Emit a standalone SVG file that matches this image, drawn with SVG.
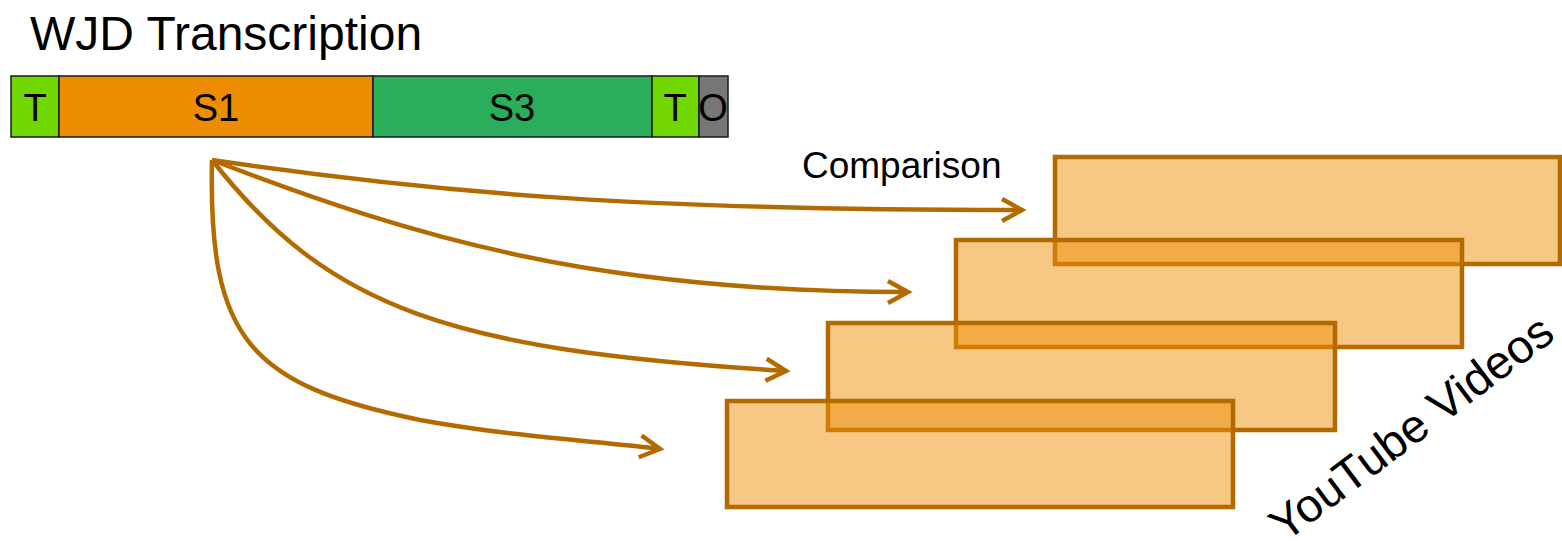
<svg xmlns="http://www.w3.org/2000/svg" width="1562" height="542" viewBox="0 0 1562 542">
<style>
text{font-family:"Liberation Sans",Arial,sans-serif;fill:#000}
.seg{stroke:#1a1a1a;stroke-width:1.5}
.lbl{font-size:38px;text-anchor:middle}
.vid{fill:#EF8F09;fill-opacity:0.5;stroke:#B36B00;stroke-width:4.5}
.arr{fill:none;stroke:#B36B00;stroke-width:4.5;marker-end:url(#chev)}
</style>
<defs>
<marker id="chev" markerUnits="userSpaceOnUse" markerWidth="30" markerHeight="30" refX="22" refY="12" orient="auto" viewBox="0 0 30 24">
<path d="M2,1 L22,12 L2,23" fill="none" stroke="#B36B00" stroke-width="4.5"/>
</marker>
</defs>
<rect width="1562" height="542" fill="#fff"/>
<text id="title" x="30" y="50" font-size="48">WJD Transcription</text>
<g id="bar">
<g id="seg-t1"><rect class="seg" x="11" y="76" width="48" height="61" fill="#70D800"/><text class="lbl" x="35" y="121">T</text></g>
<g id="seg-s1"><rect class="seg" x="59" y="76" width="314" height="61" fill="#EE8C00"/><text class="lbl" x="216" y="121">S1</text></g>
<g id="seg-s3"><rect class="seg" x="373" y="76" width="279" height="61" fill="#2BAE5B"/><text class="lbl" x="512" y="121">S3</text></g>
<g id="seg-t2"><rect class="seg" x="652" y="76" width="47" height="61" fill="#70D800"/><text class="lbl" x="675" y="121">T</text></g>
<g id="seg-o"><rect class="seg" x="699" y="76" width="29" height="61" fill="#777"/><text class="lbl" x="713" y="121">O</text></g>
</g>
<g id="videos">
<rect id="video1" class="vid" x="1055" y="157" width="505" height="107"/>
<rect id="video2" class="vid" x="956" y="240" width="506" height="107"/>
<rect id="video3" class="vid" x="828" y="323" width="507" height="107"/>
<rect id="video4" class="vid" x="727" y="401" width="506" height="106"/>
</g>
<g id="connectors">
<path class="arr" d="M212,160 C450,195 650,210 1022,210"/>
<path class="arr" d="M212,160 C420,240 600,292 908,292"/>
<path class="arr" d="M212,160 C330,310 450,350 786,371"/>
<path class="arr" d="M212,160 C208,340 250,385 420,420 C520,438 600,441 660,449"/>
</g>
<text id="comparison" x="802" y="178" font-size="37">Comparison</text>
<text id="youtube" x="1285" y="543" font-size="47" transform="rotate(-37 1285 543)">YouTube Videos</text>
</svg>
